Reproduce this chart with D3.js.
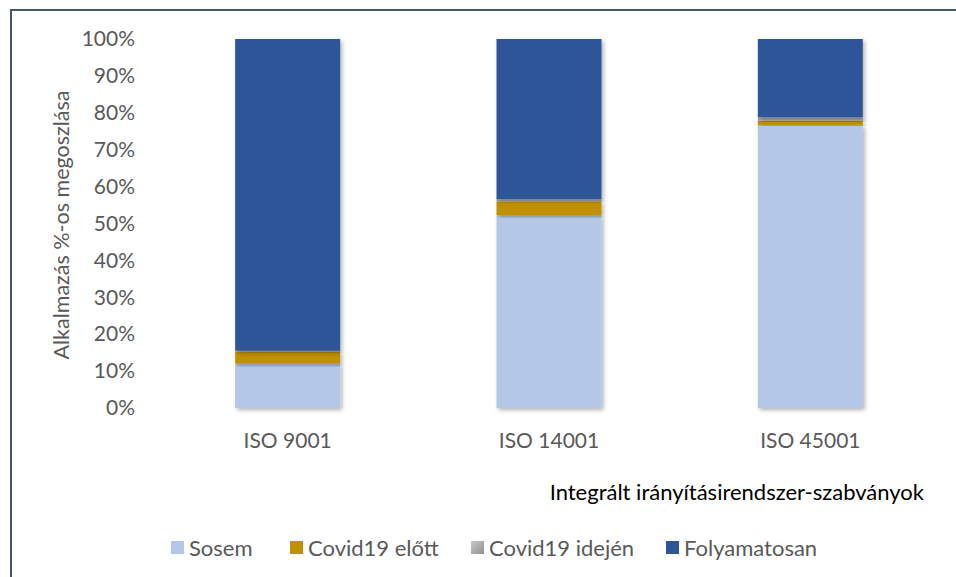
<!DOCTYPE html>
<html><head><meta charset="utf-8">
<script src="https://cdn.jsdelivr.net/npm/d3@7"></script>
<style>body{margin:0;background:#fff}svg{display:block}</style>
</head><body>
<svg id="c" width="956" height="577"></svg>
<script>
const categories = ["ISO 9001", "ISO 14001", "ISO 45001"];
const seriesNames = ["Sosem", "Covid19 előtt", "Covid19 idején", "Folyamatosan"];
const sosem = [12, 52.3, 76.7];
const covidElott = [3.2, 3.7, 1.2];
const covidIdejen = [0.3, 0.6, 0.9];
const folyamatosan = [84.5, 43.4, 21.2];
const tickValues = [0, 10, 20, 30, 40, 50, 60, 70, 80, 90, 100];
const colors = ["#b4c7e7", "#bf9000", "#a5a5a5", "#2f5597"];

const svg = d3.select("#c");
const font = "Lato, 'Open Sans', sans-serif";

const defs = svg.append("defs");
const f = defs.append("filter").attr("id","sh").attr("x","-20%").attr("y","-20%").attr("width","140%").attr("height","140%");
f.append("feDropShadow").attr("dx",2).attr("dy",2).attr("stdDeviation",2).attr("flood-color","#000").attr("flood-opacity",0.3);
const gl = defs.append("linearGradient").attr("id","gg").attr("x1",0).attr("y1",0).attr("x2",1).attr("y2",1);
gl.append("stop").attr("offset","0%").attr("stop-color","#c9c9c9");
gl.append("stop").attr("offset","100%").attr("stop-color","#8f8f8f");

// border
svg.append("path").attr("d","M11,577 L11,10 L956,10").attr("fill","none").attr("stroke","#44546a").attr("stroke-width",2);

const x = d3.scaleBand().domain(categories).range([157, 941]).paddingInner(0.6).paddingOuter(0.3);
const y = d3.scaleLinear().domain([0, 100]).range([408, 39]);

// gridlines
svg.append("g").selectAll("line").data(tickValues).join("line")
  .attr("x1",157).attr("x2",941).attr("y1",d=>y(d)).attr("y2",d=>y(d))
  .attr("stroke","#d9d9d9").attr("stroke-width",1.3).attr("filter","url(#sh)");

// y axis labels
const yAxis = d3.axisLeft(y).tickValues(tickValues).tickFormat(d=>d+"%").tickSize(0).tickPadding(0);
const ga = svg.append("g").attr("transform","translate(135,0)").call(yAxis);
ga.select(".domain").remove();
ga.selectAll("text").attr("font-family",font).attr("font-size",21).attr("fill","#595959");

// x axis labels
const xAxis = d3.axisBottom(x).tickSize(0).tickPadding(0);
const gx = svg.append("g").attr("transform","translate(0,448)").call(xAxis);
gx.select(".domain").remove();
gx.selectAll("text").attr("font-family",font).attr("font-size",21).attr("fill","#595959").attr("dy","0").attr("y",0);

// stacked data
const table = categories.map((c,i)=>({cat:c, "Sosem":sosem[i], "Covid19 előtt":covidElott[i], "Covid19 idején":covidIdejen[i], "Folyamatosan":folyamatosan[i]}));
const stack = d3.stack().keys(seriesNames)(table);
const bw = 105;
svg.append("g").selectAll("g").data(stack).join("g")
  .attr("fill",(d,i)=>colors[i])
  .selectAll("rect").data(d=>d).join("rect")
  .attr("x",d=>x(d.data.cat)+x.bandwidth()/2-bw/2)
  .attr("width",bw)
  .attr("y",d=>y(d[1]))
  .attr("height",d=>y(d[0])-y(d[1]))
  .attr("filter","url(#sh)");

// axis titles
svg.append("text").attr("transform","translate(69,225) rotate(-90)").attr("text-anchor","middle")
  .attr("font-family",font).attr("font-size",21.5).attr("fill","#595959").text("Alkalmazás %-os megoszlása");
svg.append("text").attr("x",924).attr("y",500).attr("text-anchor","end")
  .attr("font-family",font).attr("font-size",22).attr("fill","#000").text("Integrált irányítási­rendszer-szabványok");

// legend
const legX = [171, 290, 471, 666];
const lg = svg.append("g").selectAll("g").data(seriesNames).join("g")
  .attr("transform",(d,i)=>`translate(${legX[i]},541)`);
lg.append("rect").attr("width",13).attr("height",13).attr("fill",(d,i)=> i===2 ? "url(#gg)" : colors[i]);
lg.append("text").attr("x",18).attr("y",14.5).attr("font-family",font).attr("font-size",22).attr("fill","#595959").text(d=>d);
</script>
</body></html>
